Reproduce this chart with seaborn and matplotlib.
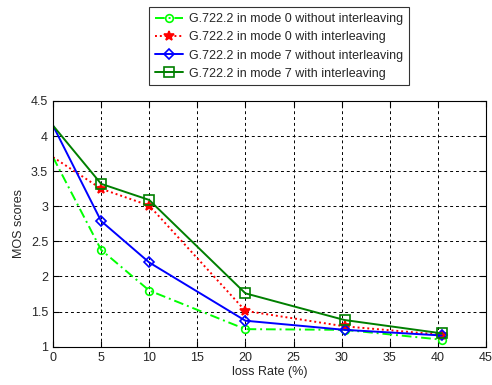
import matplotlib
matplotlib.use("Agg")
import matplotlib.pyplot as plt
import seaborn as sns
import pandas as pd

loss_rate = [0, 5, 10, 20, 30.3, 40.4]
mode0_no_il = [3.70, 2.38, 1.80, 1.25, 1.24, 1.10]
mode0_il = [3.70, 3.25, 3.01, 1.51, 1.29, 1.17]
mode7_no_il = [4.15, 2.79, 2.20, 1.37, 1.24, 1.16]
mode7_il = [4.15, 3.32, 3.09, 1.76, 1.38, 1.19]
labels = ["G.722.2 in mode 0 without interleaving",
          "G.722.2 in mode 0 with interleaving",
          "G.722.2 in mode 7 without interleaving",
          "G.722.2 in mode 7 with interleaving"]
xticks = [0, 5, 10, 15, 20, 25, 30, 35, 40, 45]
yticks = [1, 1.5, 2, 2.5, 3, 3.5, 4, 4.5]

sns.set_style("ticks")
plt.rcParams['font.family'] = ['Liberation Sans', 'DejaVu Sans']

fig = plt.figure(figsize=(4.92, 3.85), dpi=100)
ax = fig.add_axes([0.1077, 0.0995, 0.88, 0.6382])

series = [mode0_no_il, mode0_il, mode7_no_il, mode7_il]
colors = ["#00ff00", "#ff0000", "#0000ff", "#007f00"]
styles = [(0, (5, 2, 1, 2)), (0, (1, 1.5)), "-", "-"]
markers = ["o", "*", "D", "s"]
msizes = [5.5, 7, 5.5, 6.5]

for vals, lab, c, ls, m, ms in zip(series, labels, colors, styles, markers, msizes):
    df = pd.DataFrame({"x": loss_rate, "y": vals})
    face = c if m == "*" else "none"
    sns.lineplot(data=df, x="x", y="y", ax=ax, color=c, linestyle=ls, lw=1.4,
                 marker=m, markersize=ms, markeredgecolor=c, markerfacecolor=face,
                 markeredgewidth=1.2, markevery=list(range(1, len(loss_rate))),
                 label=lab)

ax.set_xlim(0, 45)
ax.set_ylim(1, 4.5)
ax.set_xticks(xticks)
ax.set_yticks(yticks)
ax.set_xticklabels([str(t) for t in xticks])
ax.set_yticklabels([("%g" % t) for t in yticks])
ax.grid(True, color="black", linestyle=(0, (3, 3)), linewidth=0.7)
ax.tick_params(direction="in", top=True, right=True, labelsize=9, length=4, color="black")
for s in ax.spines.values():
    s.set_visible(True)
    s.set_color("black")
    s.set_linewidth(0.8)
ax.set_xlabel("loss Rate (%)", fontsize=9, labelpad=2)
ax.set_ylabel("MOS scores", fontsize=9, labelpad=4)

handles, labs = ax.get_legend_handles_labels()
ax.legend_.remove()
leg = fig.legend(handles, labs, loc="upper left", bbox_to_anchor=(0.291, 0.997),
                 fontsize=9, frameon=True, fancybox=False, edgecolor="black",
                 handlelength=2.2, handletextpad=0.5, borderpad=0.45, labelspacing=0.5)
leg.get_frame().set_linewidth(0.8)

fig.savefig("out.png", dpi=100)
